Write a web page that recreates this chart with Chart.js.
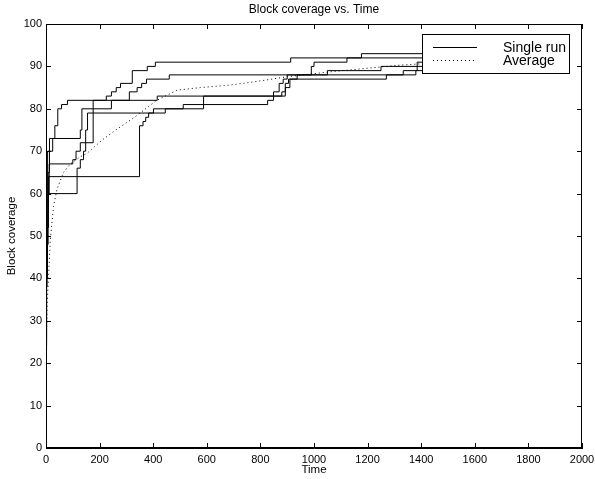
<!DOCTYPE html>
<html>
<head>
<meta charset="utf-8">
<script src="https://cdn.jsdelivr.net/npm/chart.js@4/dist/chart.umd.min.js"></script>
<style>
  body { margin: 0; background: #fff; }
  #wrap { width: 595px; height: 479px; }
</style>
</head>
<body>
<div id="wrap"><canvas id="myChart"></canvas></div>
<script>
// [time, block coverage] change points for each single run
var runA = [[0,24],[2,40],[4,52],[7,60],[12,67],[100,68],[112,70],[128,72],[176,82],[225,83],[244,84],[262,85],[278,86],[322,89],[378,90],[408,91],[913,92],[1177,93],[1560,93]]
var runB = [[0,26],[2,45],[4,60],[6,70],[25,73],[33,76],[44,80],[58,81],[80,82],[311,84],[340,85],[357,86],[375,87],[460,88],[1333,89],[1385,91],[1640,91]]
var runC = [[0,23],[2,42],[4,55],[8,65],[13,73],[128,75],[134,80],[244,82],[415,83],[849,84],[870,86],[885,87],[900,88],[990,90],[1000,91],[1123,92],[1600,92]]
var runD = [[0,25],[2,38],[4,48],[8,60],[116,66],[128,68],[140,70],[148,75],[155,79],[401,80],[588,83],[893,85],[910,87],[937,88],[1050,89],[1250,90],[1580,90]]
var runE = [[0,24],[2,40],[5,52],[9,64],[349,76],[362,77],[372,78],[383,79],[445,80],[512,81],[827,82],[849,83],[880,84],[893,86],[905,87],[1270,88],[1380,89],[1620,89]]
var average = [[0,22],[5,35],[10,41],[16,49],[28,57],[41,61],[65,65],[91,67],[128,68.7],[153,69.5],[209,72.6],[260,75],[326,77.8],[413,82],[489,84.4],[576,85],[688,85.6],[781,86.4],[904,87.6],[1072,88.8],[1322,90.3],[1500,91]]

var xTicks = [0,200,400,600,800,1000,1200,1400,1600,1800,2000]
var yTicks = [0,10,20,30,40,50,60,70,80,90,100]
var legendLabels = ['Single run', 'Average']
var chartTitle = 'Block coverage vs. Time'

Chart.defaults.font.family = '"Liberation Sans", Arial, sans-serif'
Chart.defaults.color = '#000'

function toPoints(run) {
    return run.map(p => ({ x: p[0], y: p[1] }))
}

function runSet(run) {
    return {
        data: toPoints(run),
        borderColor: '#000',
        borderWidth: 1,
        pointRadius: 0,
        stepped: true,
        fill: false
    }
}

// box frame, inward ticks, title over the axes and an opaque legend like the old matlab plot
var matlabAxes = {
    id: 'matlabAxes',
    afterDatasetsDraw(chart) {
        const ctx = chart.ctx
        const a = chart.chartArea
        const bx = a.right - 160, by = a.top + 10, bw = 147, bh = 39
        ctx.save()
        ctx.fillStyle = '#fff'
        ctx.fillRect(bx, by, bw, bh)
        ctx.strokeStyle = '#000'
        ctx.lineWidth = 1
        ctx.strokeRect(bx + 0.5, by + 0.5, bw, bh)
        ctx.beginPath()
        ctx.moveTo(bx + 11, by + 13.5)
        ctx.lineTo(bx + 55, by + 13.5)
        ctx.stroke()
        ctx.setLineDash([1, 3])
        ctx.beginPath()
        ctx.moveTo(bx + 11, by + 26.5)
        ctx.lineTo(bx + 55, by + 26.5)
        ctx.stroke()
        ctx.setLineDash([])
        ctx.fillStyle = '#000'
        ctx.font = '14px "Liberation Sans", Arial, sans-serif'
        ctx.textBaseline = 'middle'
        ctx.fillText(legendLabels[0], bx + 81, by + 14)
        ctx.fillText(legendLabels[1], bx + 81, by + 27)
        ctx.restore()
    },
    afterDraw(chart) {
        const ctx = chart.ctx
        const a = chart.chartArea
        const x = chart.scales.x, y = chart.scales.y
        ctx.save()
        ctx.strokeStyle = '#000'
        ctx.lineWidth = 1
        ctx.strokeRect(a.left + 0.5, a.top + 0.5, a.right - a.left - 1, a.bottom - a.top - 1)
        ctx.beginPath()
        xTicks.forEach(v => {
            const px = Math.round(x.getPixelForValue(v)) + 0.5
            ctx.moveTo(px, a.bottom)
            ctx.lineTo(px, a.bottom - 5)
            ctx.moveTo(px, a.top)
            ctx.lineTo(px, a.top + 5)
        })
        yTicks.forEach(v => {
            const py = Math.round(y.getPixelForValue(v)) + 0.5
            ctx.moveTo(a.left, py)
            ctx.lineTo(a.left + 5, py)
            ctx.moveTo(a.right, py)
            ctx.lineTo(a.right - 5, py)
        })
        ctx.stroke()
        ctx.fillStyle = '#000'
        ctx.font = '12px "Liberation Sans", Arial, sans-serif'
        ctx.textAlign = 'center'
        ctx.textBaseline = 'middle'
        ctx.fillText(chartTitle, (a.left + a.right) / 2, 10)
        ctx.restore()
    }
}

var ctx = document.getElementById('myChart').getContext('2d')
var myChart = new Chart(ctx, {
    type: 'line',
    data: {
        datasets: [
            runSet(runA),
            runSet(runB),
            runSet(runC),
            runSet(runD),
            runSet(runE),
            {
                data: toPoints(average),
                borderColor: '#000',
                borderWidth: 1,
                borderDash: [1, 3],
                pointRadius: 0,
                tension: 0,
                fill: false
            }
        ]
    },
    options: {
        responsive: true,
        maintainAspectRatio: false,
        animation: false,
        layout: { padding: { left: 0, right: 13, top: 24, bottom: 0 } },
        plugins: {
            legend: { display: false },
            tooltip: { enabled: false },
            title: { display: false }
        },
        scales: {
            x: {
                type: 'linear',
                min: 0,
                max: 2000,
                afterBuildTicks: s => { s.ticks = xTicks.map(v => ({ value: v })) },
                ticks: { color: '#000', font: { size: 11 }, padding: 5, maxRotation: 0, autoSkip: false, callback: v => String(v) },
                grid: { display: false, drawTicks: false },
                border: { color: '#000', width: 1 },
                title: { display: true, text: 'Time', font: { size: 11.5 }, padding: { top: 0, bottom: 2 } },
                afterFit: s => { s.height = 31; s.paddingRight = 0; s.paddingLeft = 0 }
            },
            y: {
                min: 0,
                max: 100,
                afterBuildTicks: s => { s.ticks = yTicks.map(v => ({ value: v })) },
                ticks: { color: '#000', font: { size: 11 }, padding: 4, autoSkip: false, callback: v => String(v) },
                grid: { display: false, drawTicks: false },
                border: { color: '#000', width: 1 },
                title: { display: true, text: 'Block coverage', font: { size: 11.5 }, padding: { top: 5, bottom: 0 } },
                afterFit: s => { s.width = 46; s.paddingTop = 0; s.paddingBottom = 0 }
            }
        }
    },
    plugins: [matlabAxes]
})
</script>
</body>
</html>
